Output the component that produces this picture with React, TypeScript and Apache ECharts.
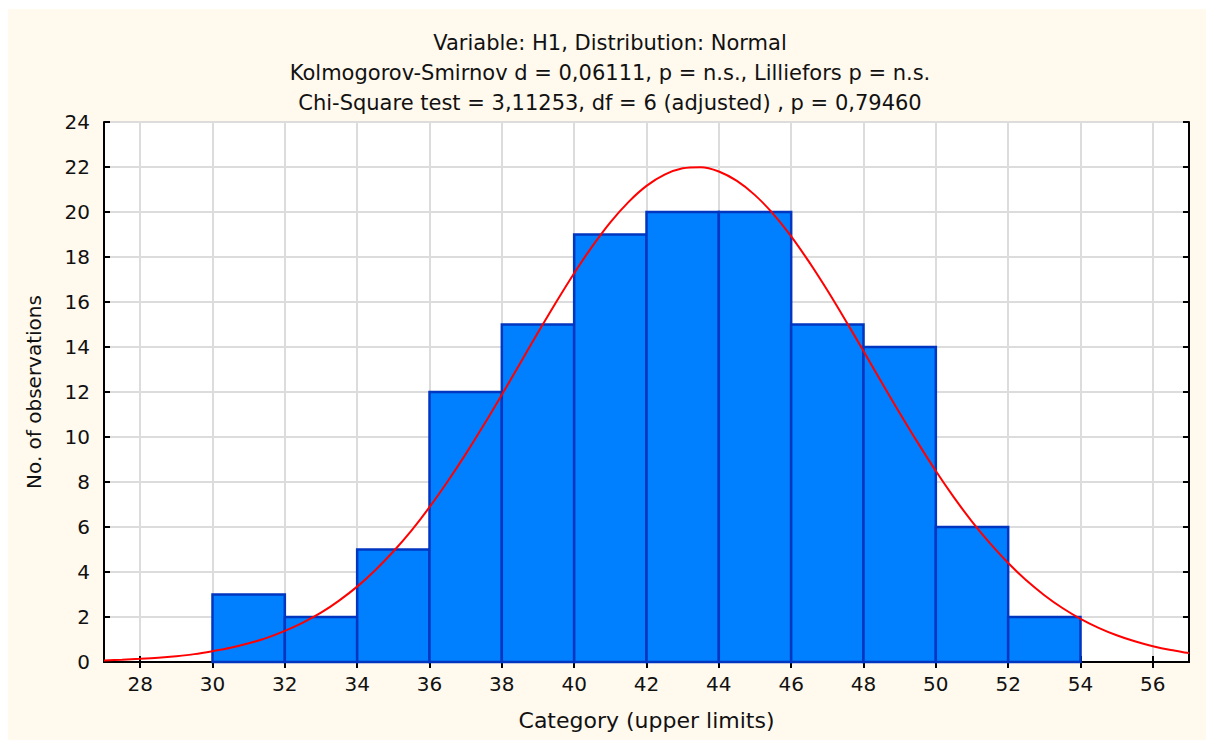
import React, { useEffect, useRef } from "react";
import * as echarts from "echarts";

const titleLines = [
  "Variable: H1, Distribution: Normal",
  "Kolmogorov-Smirnov d = 0,06111, p = n.s., Lilliefors p = n.s.",
  "Chi-Square test = 3,11253, df = 6 (adjusted) , p = 0,79460",
];
const xAxisName = "Category (upper limits)";
const yAxisName = "No. of observations";

const binStarts = [30, 32, 34, 36, 38, 40, 42, 44, 46, 48, 50, 52];
const binEnds = [32, 34, 36, 38, 40, 42, 44, 46, 48, 50, 52, 54];
const counts = [3, 2, 5, 12, 15, 19, 20, 20, 15, 14, 6, 2];

// fitted normal curve, every half unit
const curveX = [
  27, 27.5, 28, 28.5, 29, 29.5, 30, 30.5, 31, 31.5, 32, 32.5, 33, 33.5, 34, 34.5,
  35, 35.5, 36, 36.5, 37, 37.5, 38, 38.5, 39, 39.5, 40, 40.5, 41, 41.5, 42, 42.5,
  43, 43.5, 44, 44.5, 45, 45.5, 46, 46.5, 47, 47.5, 48, 48.5, 49, 49.5, 50, 50.5,
  51, 51.5, 52, 52.5, 53, 53.5, 54, 54.5, 55, 55.5, 56, 56.5, 57,
];
const curveY = [
  0.07, 0.1, 0.14, 0.19, 0.26, 0.35, 0.48, 0.63, 0.83, 1.07, 1.38, 1.75, 2.19, 2.73, 3.35, 4.08,
  4.91, 5.84, 6.88, 8.02, 9.24, 10.53, 11.88, 13.26, 14.64, 15.99, 17.28, 18.47, 19.54, 20.44, 21.16, 21.66,
  21.94, 21.99, 21.8, 21.38, 20.75, 19.92, 18.92, 17.77, 16.52, 15.19, 13.82, 12.43, 11.07, 9.75, 8.49, 7.32,
  6.24, 5.27, 4.4, 3.63, 2.97, 2.4, 1.92, 1.52, 1.19, 0.92, 0.7, 0.53, 0.4,
];

const xTicks = [28, 30, 32, 34, 36, 38, 40, 42, 44, 46, 48, 50, 52, 54, 56];
const xMin = 27;
const xMax = 57;
const yMin = 0;
const yMax = 24;
const yStep = 2;

const FONT = "DejaVu Sans";

export default function App() {
  const ref = useRef<HTMLDivElement>(null);
  useEffect(() => {
    if (!ref.current) return;
    const chart = echarts.init(ref.current, null, { renderer: "svg" });
    const barData = binStarts.map((s, i) => [s, binEnds[i], counts[i]]);
    const lineData = curveX.map((x, i) => [x, curveY[i]]);
    const axisLineStyle = { lineStyle: { color: "#000", width: 2 } };
    const tickStyle = { inside: true, length: 6, lineStyle: { color: "#000", width: 2 } };
    const option: any = {
      animation: false,
      backgroundColor: "#FFF9EE",
      title: {
        text: titleLines.join("\n"),
        left: 597,
        top: 14,
        textAlign: "center",
        textStyle: {
          fontFamily: FONT,
          fontSize: 21,
          fontWeight: "normal",
          color: "#111",
          lineHeight: 30,
        },
      },
      grid: { left: 96, top: 113, right: 17, bottom: 78, show: true, backgroundColor: "#fff", borderWidth: 0 },
      xAxis: [
        {
          type: "value",
          min: xMin,
          max: xMax,
          name: xAxisName,
          nameLocation: "middle",
          nameGap: 47,
          nameTextStyle: { fontFamily: FONT, fontSize: 22, color: "#111" },
          axisLine: axisLineStyle,
          axisTick: { ...tickStyle, customValues: xTicks },
          axisLabel: { customValues: xTicks, fontFamily: FONT, fontSize: 20, color: "#111", margin: 12 },
          splitLine: { show: true, lineStyle: { color: "#dcdcdc", width: 2 } },
        },
        {
          type: "value",
          position: "top",
          min: xMin,
          max: xMax,
          axisLine: axisLineStyle,
          axisTick: { ...tickStyle, customValues: xTicks },
          axisLabel: { show: false },
          splitLine: { show: false },
        },
      ],
      yAxis: [
        {
          type: "value",
          min: yMin,
          max: yMax,
          interval: yStep,
          name: yAxisName,
          nameLocation: "middle",
          nameGap: 60,
          nameRotate: 90,
          nameTextStyle: { fontFamily: FONT, fontSize: 20, color: "#111" },
          axisLine: axisLineStyle,
          axisTick: tickStyle,
          axisLabel: { fontFamily: FONT, fontSize: 20, color: "#111", margin: 14 },
          splitLine: { show: true, lineStyle: { color: "#dcdcdc", width: 2 } },
        },
        {
          type: "value",
          position: "right",
          min: yMin,
          max: yMax,
          interval: yStep,
          axisLine: axisLineStyle,
          axisTick: tickStyle,
          axisLabel: { show: false },
          splitLine: { show: false },
        },
      ],
      series: [
        {
          type: "custom",
          xAxisIndex: 0,
          yAxisIndex: 0,
          data: barData,
          encode: { x: [0, 1], y: 2 },
          renderItem: (params: any, api: any) => {
            const p0 = api.coord([api.value(0), api.value(2)]);
            const p1 = api.coord([api.value(1), 0]);
            return {
              type: "rect",
              shape: { x: p0[0], y: p0[1], width: p1[0] - p0[0], height: p1[1] - p0[1] },
              style: { fill: "#0080FF", stroke: "#0036C0", lineWidth: 2.5 },
            };
          },
          z: 2,
        },
        {
          type: "line",
          xAxisIndex: 0,
          yAxisIndex: 0,
          data: lineData,
          smooth: 0.3,
          showSymbol: false,
          lineStyle: { color: "#FF0000", width: 2 },
          clip: true,
          z: 3,
        },
      ],
    };
    chart.setOption(option);
    return () => chart.dispose();
  }, []);
  return (
    <div
      ref={ref}
      style={{ position: "fixed", left: 8, top: 9, width: 1198, height: 731 }}
    />
  );
}
